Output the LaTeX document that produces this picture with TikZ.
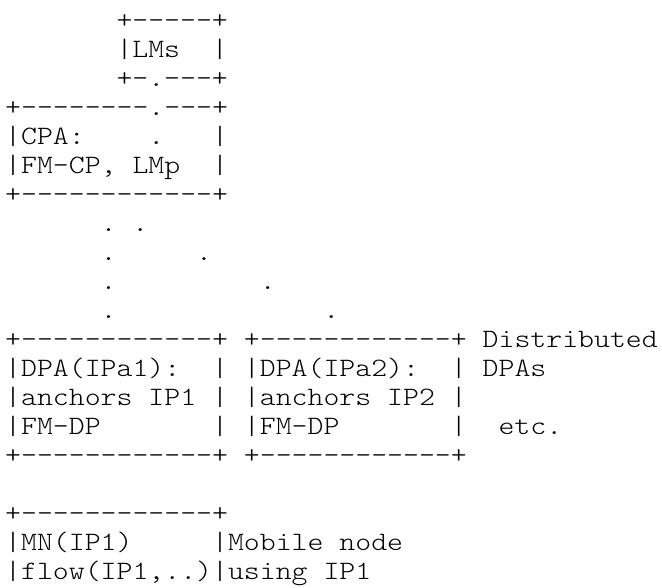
\documentclass[tikz,border=0pt]{standalone}
\usepackage{fontspec}
\newfontfamily\asciifont[FakeStretch=1.144]{lmmonolt10-regular.otf}

\begin{document}
\begin{tikzpicture}[x=15.9pt,y=-29pt,
  ascii/.style={font={\asciifont\fontsize{26.5pt}{29pt}\selectfont},
    inner sep=0pt,anchor=base west,yshift=-10pt}]
\useasboundingbox (-5pt,18pt) rectangle (657pt,-569pt);
\node[ascii] (lmsTop) at (7,0) {+-----+};
\node[ascii] (lms) at (7,1) {|LMs~~|};
\node[ascii] (lmsBot) at (7,2) {+-.---+};
\node[ascii] (cpaTop) at (0,3) {+--------.---+};
\node[ascii] (cpa) at (0,4) {|CPA:~~~~.~~~|};
\node[ascii] (cpaFM) at (0,5) {|FM-CP,~LMp~~|};
\node[ascii] (cpaBot) at (0,6) {+------------+};
\node[ascii] (dotsA) at (6,7) {.~.};
\node[ascii] (dotsB) at (6,8) {.~~~~~.};
\node[ascii] (dotsC) at (6,9) {.~~~~~~~~~.};
\node[ascii] (dotsD) at (6,10) {.~~~~~~~~~~~~~.};
\node[ascii] (dpaTop) at (0,11) {+------------+~+------------+~Distributed};
\node[ascii] (dpa) at (0,12) {|DPA(IPa1):~~|~|DPA(IPa2):~~|~DPAs};
\node[ascii] (dpaIP) at (0,13) {|anchors~IP1~|~|anchors~IP2~|};
\node[ascii] (dpaFM) at (0,14) {|FM-DP~~~~~~~|~|FM-DP~~~~~~~|~~etc.};
\node[ascii] (dpaBot) at (0,15) {+------------+~+------------+};
\node[ascii] (mnTop) at (0,17) {+------------+};
\node[ascii] (mn) at (0,18) {|MN(IP1)~~~~~|Mobile~node};
\node[ascii] (mnFlow) at (0,19) {|flow(IP1,..)|using~IP1};
\end{tikzpicture}
\end{document}
